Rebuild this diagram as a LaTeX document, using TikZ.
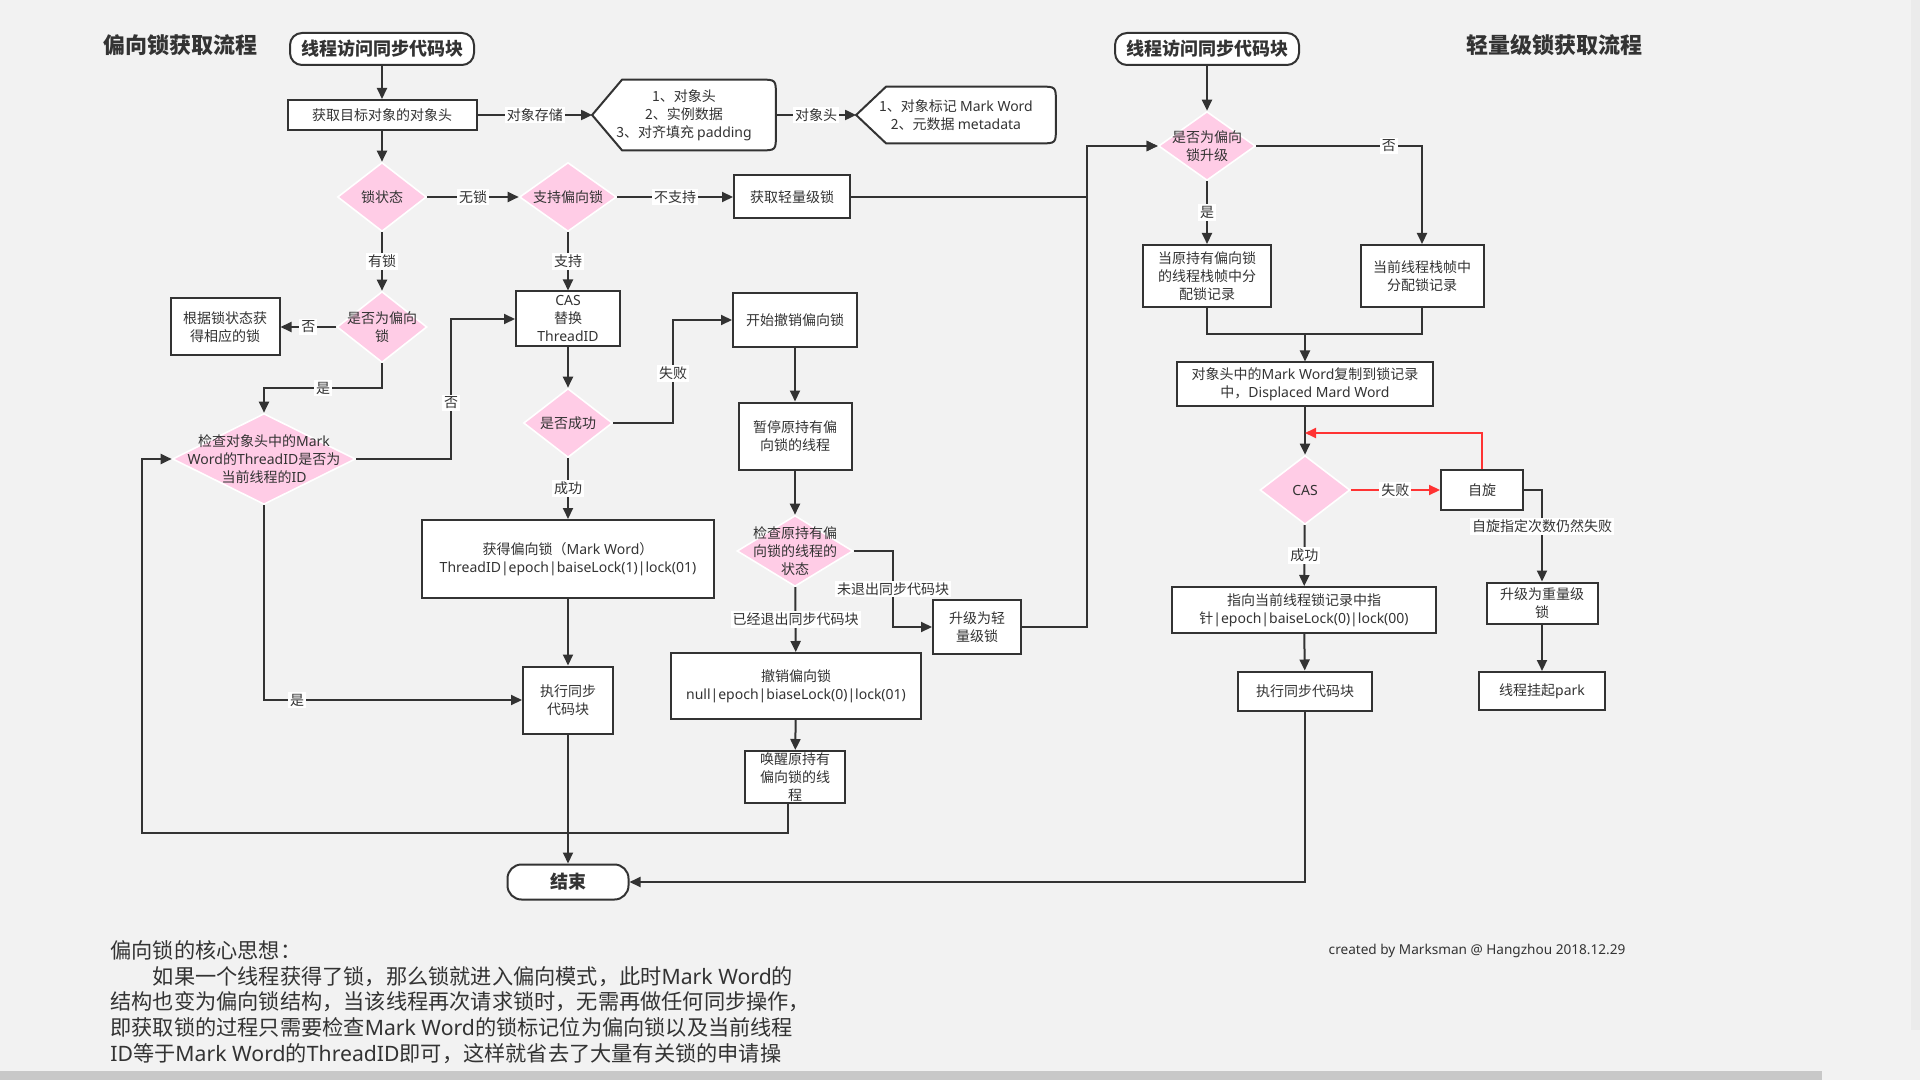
\documentclass[tikz,border=0pt]{standalone}
\usepackage{fontspec}
\setmainfont{Noto Sans CJK SC}
\newfontfamily\latinfont{Noto Sans}
\usetikzlibrary{arrows.meta,shapes.geometric,calc}
\definecolor{bgc}{HTML}{F2F2F2}
\definecolor{ink}{HTML}{333333}
\definecolor{pinkd}{HTML}{FFCCE6}
\definecolor{redl}{HTML}{FF3333}
\definecolor{barc}{HTML}{C8C8C8}
\pgfdeclarelayer{bg}
\pgfdeclarelayer{under}
\pgfsetlayers{bg,under,main}
\newcommand\lt[1]{{\latinfont #1}}
\newcommand\fs{\fontsize{7}{9}\selectfont}

\begin{document}
\begin{tikzpicture}[x=0.5pt,y=-0.5pt,
  sz/.style 2 args={minimum width=#1*0.5pt, minimum height=#2*0.5pt},
  box/.style={draw=ink, fill=white, line width=1pt, text=ink, font=\fs, align=center, inner sep=1pt},
  term/.style={box, rounded corners=6pt, font=\fontsize{9}{11}\selectfont\bfseries},
  title/.style={text=ink, font=\fontsize{11}{13}\selectfont\bfseries, inner sep=0pt},
  dia/.style={diamond, fill=pinkd, draw=white, line width=0.8pt, inner sep=0pt},
  dtext/.style={text=ink, font=\fs, align=center, inner sep=0pt},
  disp/.style={text=ink, font=\fs, align=center, inner sep=0pt},
  conn/.style={draw=ink, line width=1pt, -{Triangle[length=5.5pt,width=5pt]}},
  link/.style={draw=ink, line width=1pt},
  lbl/.style={fill=white, text=ink, font=\fs, inner sep=1pt},
  dispshape/.style={draw=ink, fill=white, line width=1pt}
]
\useasboundingbox (0,0) rectangle (1920,1080);
\begin{pgfonlayer}{bg}
  \fill[bgc] (0,0) rectangle (1920,1080);
  \fill[barc] (0,1071) rectangle (1822,1080);
  \fill[white!92!black] (1911,0) rectangle (1920,1030);
\end{pgfonlayer}

% ---------- biased lock flow ----------
\node[title] (t1) at (180,45) {偏向锁获取流程};
\node[term, sz={184}{32}] (s1) at (382,49) {线程访问同步代码块};
\node[box, sz={189}{30}] (head) at (382,115) {获取目标对象的对象头};
\node[disp, sz={183}{70}] (store) at (684,115) {1、对象头\\2、实例数据\\3、对齐填充 \lt{padding}};
\node[disp, sz={199}{56}] (header) at (956,115) {1、对象标记 \lt{Mark Word}\\2、元数据 \lt{metadata}};

\node[dia, sz={89}{69}] (lockstate) at (382,197) {};
\node[dtext] (lockstate-t) at (lockstate) {锁状态};
\node[dia, sz={97}{69}] (support) at (568,197) {};
\node[dtext] (support-t) at (support) {支持偏向锁};
\node[box, sz={116}{43}] (light) at (792,197) {获取轻量级锁};
\node[dia, sz={90}{71}] (isbiased) at (382,327) {};
\node[dtext] (isbiased-t) at (isbiased) {是否为偏向\\锁};
\node[box, sz={109}{57}] (bystate) at (225,327) {根据锁状态获\\得相应的锁};
\node[dia, sz={183}{91}] (checkid) at (264,459) {};
\node[dtext] (checkid-t) at (checkid) {检查对象头中的\lt{Mark}\\\lt{Word}的\lt{ThreadID}是否为\\当前线程的\lt{ID}};
\node[box, sz={104}{55}] (cas) at (568,319) {\lt{CAS}\\替换\\\lt{ThreadID}};
\node[dia, sz={89}{69}] (success) at (568,423) {};
\node[dtext] (success-t) at (success) {是否成功};
\node[box, sz={292}{78}] (gotbias) at (568,559) {获得偏向锁（\lt{Mark Word}）\\\lt{ThreadID|epoch|baiseLock(1)|lock(01)}};
\node[box, sz={90}{67}] (exec1) at (568,700) {执行同步\\代码块};
\node[term, rounded corners=7pt, sz={121}{35}] (end) at (568,882) {结束};

\node[box, sz={124}{54}] (startrev) at (795,320) {开始撤销偏向锁};
\node[box, sz={113}{67}] (pause) at (795,436) {暂停原持有偏\\向锁的线程};
\node[dia, sz={116}{71}] (holder) at (795,551) {};
\node[dtext] (holder-t) at (holder) {检查原持有偏\\向锁的线程的\\状态};
\node[box, sz={88}{54}] (uplight) at (977,627) {升级为轻\\量级锁};
\node[box, sz={250}{66}] (revoke) at (796,686) {撤销偏向锁\\\lt{null|epoch|biaseLock(0)|lock(01)}};
\node[box, inner ysep=0pt, sz={100}{52}] (wake) at (795,777) {唤醒原持有\\偏向锁的线\\程};

% ---------- lightweight lock flow ----------
\node[title] (t2) at (1554,45) {轻量级锁获取流程};
\node[term, sz={184}{32}] (s2) at (1207,49) {线程访问同步代码块};
\node[dia, sz={97}{69}] (upg) at (1207,146) {};
\node[dtext] (upg-t) at (upg) {是否为偏向\\锁升级};
\node[box, sz={128}{62}] (ownf) at (1207,276) {当原持有偏向锁\\的线程栈帧中分\\配锁记录};
\node[box, sz={123}{62}] (curf) at (1422,276) {当前线程栈帧中\\分配锁记录};
\node[box, sz={256}{43}] (copy) at (1305,384) {对象头中的\lt{Mark Word}复制到锁记录\\中，\lt{Displaced Mard Word}};
\node[dia, sz={90}{69}] (cas2) at (1305,490) {};
\node[dtext] (cas2-t) at (cas2) {\lt{CAS}};
\node[box, sz={82}{40}] (spin) at (1482,490) {自旋};
\node[box, sz={111}{41}] (heavy) at (1542,603) {升级为重量级\\锁};
\node[box, sz={126}{38}] (park) at (1542,691) {线程挂起\lt{park}};
\node[box, sz={264}{46}] (point) at (1304,610) {指向当前线程锁记录中指\\针\lt{|epoch|baiseLock(0)|lock(00)}};
\node[box, sz={134}{39}] (exec2) at (1305,691) {执行同步代码块};

% bend points of the routed connectors
\coordinate (c1) at (451,319);
\coordinate (c2) at (673,320);
\coordinate (c3) at (893,627);
\coordinate (c4) at (142,833);
\coordinate (jn) at (1087,146);
\coordinate (mg) at (1305,334);
\coordinate (rl) at (1305,433);

% object layout shapes: pointed left end, rounded right end
\begin{pgfonlayer}{under}
\foreach \n in {store,header}{
  \draw[dispshape]
    ([xshift=15pt]\n.north west) -- (\n.west) -- ([xshift=15pt]\n.south west)
    -- ([xshift=-8pt]\n.south east) .. controls (\n.south east) .. ([yshift=8pt]\n.south east)
    -- ([yshift=-8pt]\n.north east) .. controls (\n.north east) .. ([xshift=-8pt]\n.north east)
    -- cycle;
}
\end{pgfonlayer}

% ---------- connectors: biased lock ----------
\draw[conn] (s1) -- (head);
\draw[conn] (head) -- (store.west) node[lbl, midway] (l1) {对象存储};
\draw[conn] (store.east) -- (header.west) node[lbl, midway] (l2) {对象头};
\draw[conn] (head) -- (lockstate);
\draw[conn] (lockstate) -- (support) node[lbl, midway] (l3) {无锁};
\draw[conn] (support) -- (light) node[lbl, midway] (l4) {不支持};
\draw[conn] (lockstate) -- (isbiased) node[lbl, midway] (l5) {有锁};
\draw[conn] (isbiased) -- (bystate) node[lbl, midway] (l6) {否};
\draw[conn] (isbiased.south) -- ++(0,25) -| (checkid.north) node[lbl, pos=0.25] (l7) {是};
\draw[conn] (checkid.east) -| (c1) node[lbl, pos=0.7] (l8) {否} -- (cas.west);
\draw[conn] (support) -- (cas) node[lbl, midway] (l9) {支持};
\draw[conn] (cas) -- (success);
\draw[conn] (success.east) -| (c2) node[lbl, pos=0.74] (l10) {失败} -- (startrev.west);
\draw[conn] (success) -- (gotbias) node[lbl, midway] (l11) {成功};
\draw[conn] (gotbias) -- (exec1);
\draw[conn] (checkid.south) |- (exec1.west) node[lbl, pos=0.564] (l12) {是};
\draw[conn] (exec1) -- (end);
\draw[conn] (startrev) -- (pause);
\draw[conn] (pause) -- (holder);
\draw[conn] (holder) -- (revoke) node[lbl, midway] (l13) {已经退出同步代码块};
\draw[conn] (holder.east) -| (c3) node[lbl, pos=0.75] (l14) {未退出同步代码块} -- (uplight.west);
\draw[conn] (revoke) -- (wake);
\draw[conn] ([xshift=-3.5pt]wake.south) |- (c4) |- (checkid.west);
\draw[conn] (light.east) -| (jn) -- (upg.west);
\draw[conn] (uplight.east) -| (jn) -- (upg.west);

% ---------- connectors: lightweight lock ----------
\draw[conn] (s2) -- (upg);
\draw[conn] (upg) -- (ownf) node[lbl, midway] (l15) {是};
\draw[conn] (upg.east) -| (curf.north) node[lbl, pos=0.4] (l16) {否};
\draw[link] (ownf.south) |- (mg) -| (curf.south);
\draw[conn] (mg) -- (copy);
\draw[conn] (copy) -- (cas2);
\draw[conn, draw=redl] (cas2) -- (spin) node[lbl, midway] (l17) {失败};
\draw[conn, draw=redl] (spin.north) |- (rl);
\draw[conn] (spin.east) -| (heavy.north) node[lbl, pos=0.7] (l18) {自旋指定次数仍然失败};
\draw[conn] (heavy) -- (park);
\draw[conn] (cas2) -- (point) node[lbl, midway] (l19) {成功};
\draw[conn] (point) -- (exec2);
\draw[conn] (exec2.south) |- (end.east);

% ---------- notes ----------
\node[anchor=north west, text=ink, align=left, inner sep=0pt,
      font=\fontsize{10.6}{12.9}\selectfont] (core) at (110,940)
 {偏向锁的核心思想：\\
  \hspace*{2em}如果一个线程获得了锁，那么锁就进入偏向模式，此时\lt{Mark Word}的\\
  结构也变为偏向锁结构，当该线程再次请求锁时，无需再做任何同步操作，\\
  即获取锁的过程只需要检查\lt{Mark Word}的锁标记位为偏向锁以及当前线程\\
  \lt{ID}等于\lt{Mark Word}的\lt{ThreadID}即可，这样就省去了大量有关锁的申请操};
\node[text=ink, font=\fontsize{6.8}{8}\selectfont, inner sep=0pt] (credit) at (1477,951)
 {\lt{created by Marksman @ Hangzhou 2018.12.29}};
\end{tikzpicture}
\end{document}
